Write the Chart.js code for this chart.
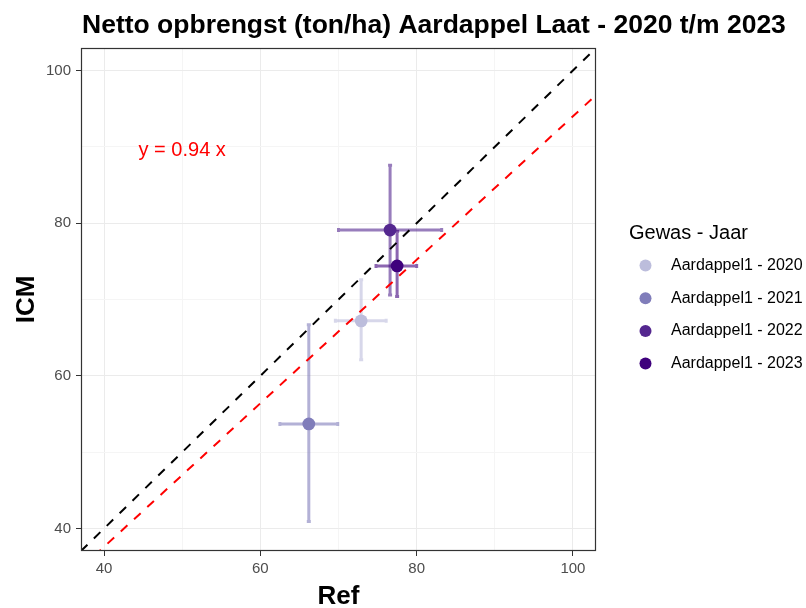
<!DOCTYPE html>
<html>
<head>
<meta charset="utf-8">
<title>Netto opbrengst Aardappel Laat</title>
<script src="https://cdn.jsdelivr.net/npm/chart.js@4.4.1/dist/chart.umd.min.js"></script>
<style>
  html, body { margin: 0; padding: 0; background: #fff; }
  canvas { display: block; }
</style>
</head>
<body>
<canvas id="yieldChart" width="806" height="608"></canvas>
<script>
// data
var years = ['2020', '2021', '2022', '2023'];
var seriesLabels = years.map(function (y) { return 'Aardappel1 - ' + y; });
var refMean = [72.9, 66.2, 76.6, 77.5];
var icmMean = [67.2, 53.7, 79.1, 74.4];
var refLow  = [69.6, 62.5, 70.0, 74.8];
var refHigh = [76.1, 69.9, 83.2, 80.0];
var icmLow  = [62.1, 40.9, 70.6, 70.4];
var icmHigh = [72.6, 66.7, 87.6, 78.9];
var slope = 0.94;
var axisTicks = [40, 60, 80, 100];

var colors = ['#BCBDDC', '#807DBA', '#54278F', '#3F007D'];
var barColors = ['rgba(188,189,220,0.6)', 'rgba(128,125,186,0.6)', 'rgba(84,39,143,0.6)', 'rgba(63,0,125,0.6)'];
var axisMin = 37.05, axisMax = 102.95;
var FONT = '"Liberation Sans", Arial, sans-serif';

var datasets = years.map(function (y, i) {
    return {
        type: 'scatter',
        label: seriesLabels[i],
        data: [{ x: refMean[i], y: icmMean[i] }],
        backgroundColor: colors[i],
        borderWidth: 0,
        pointRadius: 6.4,
        pointHoverRadius: 6.4
    };
});

// y = x and y = 0.94 x
datasets.push({
    type: 'line',
    label: 'y = x',
    data: [{ x: axisMin, y: axisMin }, { x: axisMax, y: axisMax }],
    borderColor: '#000000',
    borderWidth: 2,
    borderDash: [9, 9],
    pointRadius: 0,
    fill: false
});
datasets.push({
    type: 'line',
    label: 'fit',
    data: [{ x: axisMin, y: axisMin * slope }, { x: axisMax, y: axisMax * slope }],
    borderColor: '#FF0000',
    borderWidth: 2,
    borderDash: [9, 9],
    pointRadius: 0,
    fill: false
});

var decor = {
    id: 'decor',
    beforeDatasetsDraw: function (chart) {
        var ctx = chart.ctx, xs = chart.scales.x, ys = chart.scales.y;
        ctx.save();
        ctx.lineWidth = 3;
        for (var i = 0; i < years.length; i++) {
            var cx = xs.getPixelForValue(refMean[i]);
            var cy = ys.getPixelForValue(icmMean[i]);
            var x1 = xs.getPixelForValue(refLow[i]), x2 = xs.getPixelForValue(refHigh[i]);
            var y1 = ys.getPixelForValue(icmLow[i]), y2 = ys.getPixelForValue(icmHigh[i]);
            ctx.strokeStyle = barColors[i];
            ctx.beginPath();
            ctx.moveTo(x1, cy); ctx.lineTo(x2, cy);
            ctx.moveTo(x1, cy - 2); ctx.lineTo(x1, cy + 2);
            ctx.moveTo(x2, cy - 2); ctx.lineTo(x2, cy + 2);
            ctx.stroke();
            ctx.beginPath();
            ctx.moveTo(cx, y1); ctx.lineTo(cx, y2);
            ctx.moveTo(cx - 2, y1); ctx.lineTo(cx + 2, y1);
            ctx.moveTo(cx - 2, y2); ctx.lineTo(cx + 2, y2);
            ctx.stroke();
        }
        ctx.restore();
    },
    afterDraw: function (chart) {
        var ctx = chart.ctx, a = chart.chartArea;
        var xs = chart.scales.x, ys = chart.scales.y;
        ctx.save();
        // panel border
        ctx.strokeStyle = '#333333';
        ctx.lineWidth = 1.2;
        ctx.strokeRect(a.left + 0.5, a.top + 0.5, a.right - a.left - 1, a.bottom - a.top - 1);

        // title
        ctx.fillStyle = '#000000';
        ctx.font = 'bold 26.5px ' + FONT;
        ctx.textAlign = 'left';
        ctx.textBaseline = 'alphabetic';
        ctx.fillText('Netto opbrengst (ton/ha) Aardappel Laat - 2020 t/m 2023', a.left + 1, 33);

        // slope label
        ctx.fillStyle = '#FF0000';
        ctx.font = '20px ' + FONT;
        ctx.textAlign = 'center';
        ctx.textBaseline = 'middle';
        ctx.fillText('y = ' + slope + ' x', xs.getPixelForValue(50), ys.getPixelForValue(89.5));

        // legend
        ctx.fillStyle = '#000000';
        ctx.font = '20px ' + FONT;
        ctx.textAlign = 'left';
        ctx.fillText('Gewas - Jaar', 629, 233);
        ctx.font = '16px ' + FONT;
        for (var i = 0; i < years.length; i++) {
            var ly = 265.5 + i * 32.7;
            ctx.fillStyle = colors[i];
            ctx.beginPath();
            ctx.arc(645.5, ly, 6, 0, Math.PI * 2);
            ctx.fill();
            ctx.fillStyle = '#000000';
            ctx.fillText(seriesLabels[i], 671, ly);
        }
        ctx.restore();
    }
};

function gridColor(c) {
    return (c.tick && c.tick.value % 20 === 0) ? '#EBEBEB' : '#F5F5F5';
}
function tickColor(c) {
    return (c.tick && c.tick.value % 20 === 0) ? '#333333' : 'rgba(0,0,0,0)';
}
function tickLabel(v) {
    return axisTicks.indexOf(v) >= 0 ? String(v) : '';
}

new Chart(document.getElementById('yieldChart').getContext('2d'), {
    data: { datasets: datasets },
    plugins: [decor],
    options: {
        responsive: false,
        animation: false,
        devicePixelRatio: 1,
        layout: { padding: { top: 48, right: 210, left: 0, bottom: 0 } },
        plugins: {
            legend: { display: false },
            tooltip: { enabled: false },
            title: { display: false }
        },
        scales: {
            x: {
                type: 'linear',
                min: axisMin,
                max: axisMax,
                afterFit: function (s) { s.height = 57; },
                border: { display: false },
                grid: { color: gridColor, tickColor: tickColor, tickLength: 5, lineWidth: 1 },
                ticks: {
                    stepSize: 10, includeBounds: false, autoSkip: false, maxRotation: 0,
                    padding: 4, color: '#4D4D4D', font: { family: FONT, size: 15 },
                    callback: tickLabel
                },
                title: {
                    display: true, text: 'Ref', color: '#000000',
                    font: { family: FONT, size: 26, weight: 'bold', lineHeight: 0.85 },
                    padding: { top: 0, bottom: 0 }
                }
            },
            y: {
                type: 'linear',
                min: axisMin,
                max: axisMax,
                afterFit: function (s) { s.width = 81; },
                border: { display: false },
                grid: { color: gridColor, tickColor: tickColor, tickLength: 5, lineWidth: 1 },
                ticks: {
                    stepSize: 10, includeBounds: false, autoSkip: false,
                    padding: 5, color: '#4D4D4D', font: { family: FONT, size: 15 },
                    callback: tickLabel
                },
                title: {
                    display: true, text: 'ICM', color: '#000000',
                    font: { family: FONT, size: 26, weight: 'bold', lineHeight: 1 },
                    padding: { top: 14, bottom: 0 }
                }
            }
        }
    }
});
</script>
</body>
</html>
